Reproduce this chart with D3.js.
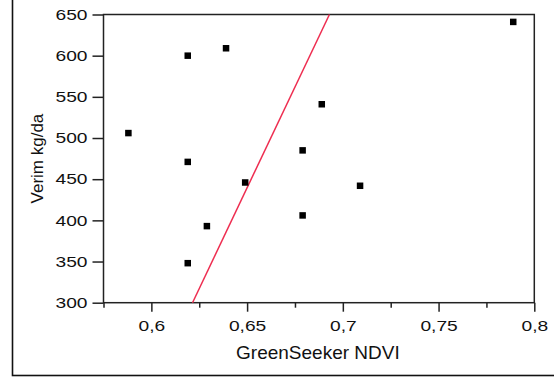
<!DOCTYPE html>
<html><head><meta charset="utf-8">
<script src="https://cdn.jsdelivr.net/npm/d3@7"></script>
<style>body{margin:0;background:#fff}svg{display:block}</style>
</head><body>
<script>
const ndvi  = [0.588, 0.619, 0.619, 0.619, 0.629, 0.639, 0.649, 0.679, 0.679, 0.689, 0.709, 0.789];
const yieldV = [506, 600, 471, 348, 393, 609, 446, 485, 406, 541, 442, 641];
const lineX = [0.6215, 0.693];
const lineY = [300, 650];
const xTicks = [0.6, 0.65, 0.7, 0.75, 0.8];
const xMinor = [0.575, 0.625, 0.675, 0.725, 0.775];
const yTicks = [300, 350, 400, 450, 500, 550, 600, 650];

const W = 554, H = 380;
const m = {l: 103.5, r: 534.3, t: 14.5, b: 302.7};
const FONT = "'Liberation Sans', Arial, sans-serif";
const SX = 1.28;
const svg = d3.select("body").append("svg").attr("width", W).attr("height", H)
  .style("font-family", FONT);

svg.append("rect").attr("x", 12.5).attr("y", -5).attr("width", 600).attr("height", 380.5)
  .attr("fill", "none").attr("stroke", "#111").attr("stroke-width", 1.6);

const x = d3.scaleLinear().domain([0.575, 0.8]).range([m.l, m.r]);
const y = d3.scaleLinear().domain([300, 650]).range([m.b, m.t]);

svg.append("rect").attr("x", m.l).attr("y", m.t).attr("width", m.r - m.l).attr("height", m.b - m.t)
  .attr("fill", "none").attr("stroke", "#222").attr("stroke-width", 1.5);

const fmt = d => String(d).replace(".", ",");
const xa = svg.append("g").attr("transform", `translate(0,${m.b})`)
  .call(d3.axisBottom(x).tickValues(xTicks).tickFormat(fmt).tickSize(9).tickPadding(9));
const xm = svg.append("g").attr("transform", `translate(0,${m.b})`)
  .call(d3.axisBottom(x).tickValues(xMinor).tickFormat("").tickSize(5));
const ya = svg.append("g").attr("transform", `translate(${m.l},0)`)
  .call(d3.axisLeft(y).tickValues(yTicks).tickSize(11).tickPadding(5));
[xa, xm, ya].forEach(g => {
  g.select(".domain").remove();
  g.selectAll("line").attr("stroke", "#222").attr("stroke-width", 1.5);
  g.selectAll("text").attr("fill", "#111").style("font-size", "15px")
   .style("font-family", FONT).attr("transform", `scale(${SX},1)`);
});
ya.selectAll("text").attr("x", -16 / SX);

svg.append("line")
  .attr("x1", x(lineX[0])).attr("y1", y(lineY[0]))
  .attr("x2", x(lineX[1])).attr("y2", y(lineY[1]))
  .attr("stroke", "#ee2d50").attr("stroke-width", 1.5);

const s = 6.5;
svg.selectAll("rect.pt").data(ndvi).enter().append("rect").attr("class", "pt")
  .attr("x", d => x(d) - s / 2).attr("y", (d, i) => y(yieldV[i]) - s / 2)
  .attr("width", s).attr("height", s).attr("fill", "#000");

svg.append("text").attr("x", (m.l + m.r) / 2 - 1).attr("y", 359).attr("text-anchor", "middle")
  .style("font-size", "19px").attr("fill", "#111").text("GreenSeeker NDVI");
svg.append("text").attr("transform", `translate(43,${(m.t + m.b) / 2}) rotate(-90)`)
  .attr("text-anchor", "middle").style("font-size", "17px").attr("fill", "#111").text("Verim kg/da");
</script>
</body></html>
